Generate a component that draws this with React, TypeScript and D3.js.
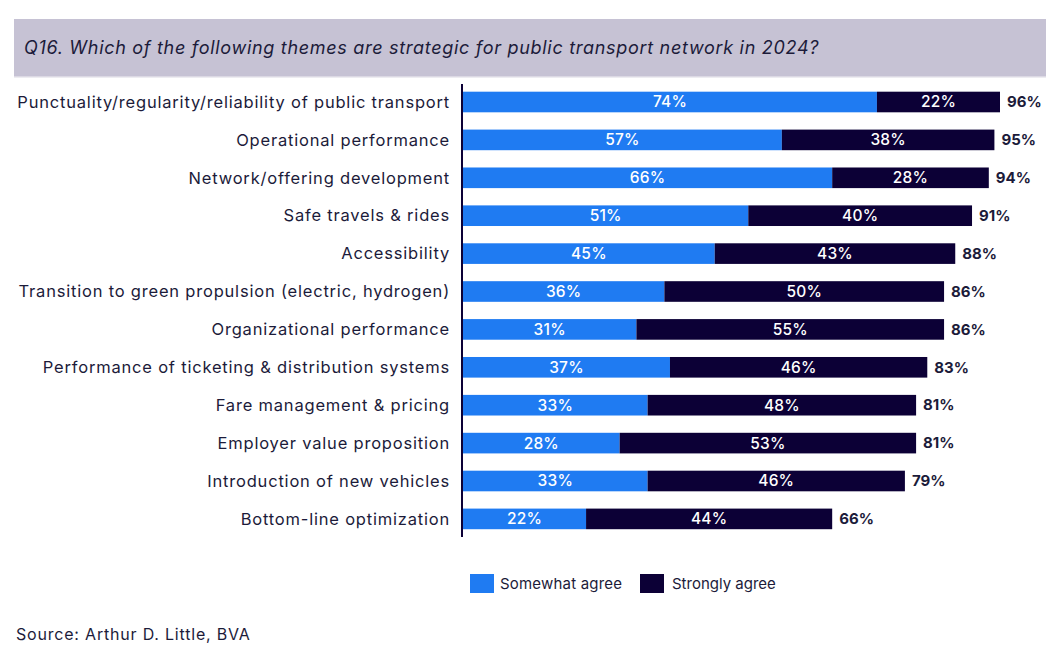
import React from "react";
import * as d3 from "d3";

const categories = [
  "Punctuality/regularity/reliability of public transport",
  "Operational performance",
  "Network/offering development",
  "Safe travels & rides",
  "Accessibility",
  "Transition to green propulsion (electric, hydrogen)",
  "Organizational performance",
  "Performance of ticketing & distribution systems",
  "Fare management & pricing",
  "Employer value proposition",
  "Introduction of new vehicles",
  "Bottom-line optimization",
];
const somewhat = [74, 57, 66, 51, 45, 36, 31, 37, 33, 28, 33, 22];
const strongly = [22, 38, 28, 40, 43, 50, 55, 46, 48, 53, 46, 44];
const totals = [96, 95, 94, 91, 88, 86, 86, 83, 81, 81, 79, 66];
const seriesNames = ["Somewhat agree", "Strongly agree"];

const BLUE = "#1f7bf2";
const DARK = "#0c0036";
const TEXT = "#1c1b3a";
const FONT = "Inter, 'Noto Sans', sans-serif";

export default function App() {
  const W = 1064, H = 654;
  const x0 = 463;
  const x = d3.scaleLinear().domain([0, 96]).range([x0, 1000]);
  const y = d3.scaleBand<string>().domain(categories).range([83.05, 537.85]).paddingInner(0.456).paddingOuter(0.228);
  const bw = y.bandwidth();
  return (
    <svg width={W} height={H} style={{ position: "absolute", left: 0, top: 0, background: "#fff" }} fontFamily={FONT}>
      <rect x={14} y={19} width={1032} height={58} fill="#c6c2d4" />
      <rect x={14} y={76} width={1032} height={1.5} fill="#dcd9e4" />
      <text x={24} y={54} fontSize={18} fontStyle="italic" letterSpacing={0.7} fill={TEXT}>
        Q16. Which of the following themes are strategic for public transport network in 2024?
      </text>
      {categories.map((c, i) => {
        const yy = y(c)!;
        const cy = yy + bw / 2;
        return (
          <g key={c}>
            <text x={450} y={cy} dy="0.35em" textAnchor="end" fontSize={16.5} letterSpacing={0.8} fill={TEXT}>{c}</text>
            <rect x={x(0)} y={yy} width={x(somewhat[i]) - x(0)} height={bw} fill={BLUE} />
            <rect x={x(somewhat[i])} y={yy} width={x(somewhat[i] + strongly[i]) - x(somewhat[i])} height={bw} fill={DARK} />
            <text x={(x(0) + x(somewhat[i])) / 2} y={cy} dy="0.35em" textAnchor="middle" fontSize={15.5} fontWeight={500} letterSpacing={0.2} fill="#fff">{somewhat[i]}%</text>
            <text x={(x(somewhat[i]) + x(somewhat[i] + strongly[i])) / 2} y={cy} dy="0.35em" textAnchor="middle" fontSize={15.5} fontWeight={500} letterSpacing={0.2} fill="#fff">{strongly[i]}%</text>
            <text x={x(totals[i]) + 7} y={cy} dy="0.35em" fontSize={15} fontWeight={700} fill={TEXT}>{totals[i]}%</text>
          </g>
        );
      })}
      <line x1={462} x2={462} y1={84} y2={537} stroke={DARK} strokeWidth={2} />
      <rect x={470} y={574} width={24} height={19} fill={BLUE} />
      <text x={500} y={584} dy="0.35em" fontSize={15} letterSpacing={0.2} fill={TEXT}>{seriesNames[0]}</text>
      <rect x={640} y={574} width={24} height={19} fill={DARK} />
      <text x={672} y={584} dy="0.35em" fontSize={15} fill={TEXT}>{seriesNames[1]}</text>
      <text x={16} y={640} fontSize={16} letterSpacing={0.8} fill={TEXT}>Source: Arthur D. Little, BVA</text>
    </svg>
  );
}
